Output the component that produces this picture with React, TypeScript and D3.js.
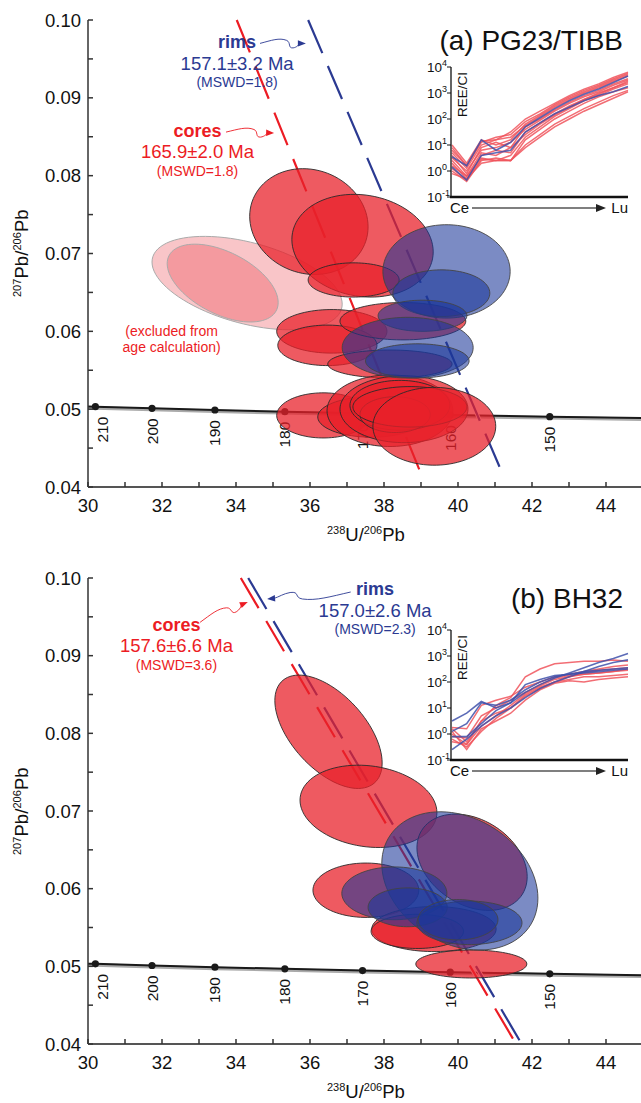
import React from "react";
import * as d3 from "d3";

const W = 641;
const H = 1103;
const FONT = "'Liberation Sans', Arial, Helvetica, sans-serif";
const RED = "#EC1C24";
const BLUE = "#2B3A92";

// axes
const xMajor = [30, 32, 34, 36, 38, 40, 42, 44];
const xMinor = [31, 33, 35, 37, 39, 41, 43, 45];
const yMajor = [0.04, 0.05, 0.06, 0.07, 0.08, 0.09, 0.1];
const yMajorLabels = ["0.04", "0.05", "0.06", "0.07", "0.08", "0.09", "0.10"];
const yMinor = [0.045, 0.055, 0.065, 0.075, 0.085, 0.095];

// concordia (Tera-Wasserburg) age marks
const concAges = [210, 200, 190, 180, 170, 160, 150];
const concX = [30.2, 31.73, 33.43, 35.32, 37.42, 39.79, 42.48];
const concY = [0.05032, 0.05011, 0.04989, 0.04968, 0.04946, 0.04925, 0.04904];
const concLineX = [30.0, 30.2, 31.73, 33.43, 35.32, 37.42, 39.79, 42.48, 45.0];
const concLineY = [0.05034, 0.05032, 0.05011, 0.04989, 0.04968, 0.04946, 0.04925, 0.04904, 0.04886];

// ellipses: [x, y, sx, sy, rho]
const excludedA = [
  [34.3, 0.0662, 2.57, 0.006, -0.45],
  [33.64, 0.0662, 1.5, 0.005, -0.5],
];
const coresA = [
  [35.97, 0.0741, 1.6, 0.0068, -0.1],
  [37.42, 0.071, 1.91, 0.0066, -0.12],
  [37.18, 0.0666, 1.23, 0.0022, 0],
  [36.59, 0.06, 1.49, 0.0028, 0],
  [36.47, 0.0582, 1.34, 0.0026, 0],
  [38.51, 0.0613, 1.7, 0.0024, 0],
  [38.16, 0.0558, 1.68, 0.0018, 0],
  [36.36, 0.0492, 1.26, 0.0029, 0],
  [37.66, 0.049, 1.45, 0.0026, 0],
  [38.16, 0.0498, 1.7, 0.0046, 0],
  [38.54, 0.05, 1.73, 0.0043, 0],
  [38.43, 0.0505, 1.35, 0.0032, 0],
  [38.3, 0.0493, 0.95, 0.0023, 0],
  [38.7, 0.0503, 1.54, 0.0026, 0],
  [39.36, 0.0478, 1.66, 0.005, 0],
];
const rimsA = [
  [39.69, 0.0677, 1.72, 0.006, 0],
  [39.55, 0.0649, 1.31, 0.003, 0],
  [39.04, 0.062, 1.2, 0.002, 0],
  [38.64, 0.0579, 1.77, 0.0039, 0],
  [38.9, 0.0562, 1.4, 0.0022, 0],
];
const coresB = [
  [36.5, 0.0802, 1.45, 0.0073, -0.55],
  [37.58, 0.0706, 1.85, 0.0053, -0.15],
  [37.51, 0.0598, 1.43, 0.0035, 0],
  [39.35, 0.0548, 1.68, 0.0029, 0],
  [38.9, 0.0545, 1.25, 0.0022, 0],
  [40.36, 0.0503, 1.5, 0.0018, 0],
  [40.38, 0.0634, 1.49, 0.0062, -0.3],
];
const rimsB = [
  [40.05, 0.061, 2.11, 0.0089, -0.25],
  [38.28, 0.0594, 1.42, 0.0034, 0],
  [38.64, 0.0576, 1.07, 0.0025, 0],
  [40.31, 0.0556, 1.42, 0.0028, 0],
  [40.0, 0.056, 1.08, 0.0026, 0],
];

// discordia lines [x1, y1, x2, y2]
const discCoresA = [34.02, 0.1, 39.06, 0.041];
const discRimsA = [35.95, 0.1, 41.23, 0.0414];
const discCoresB = [34.13, 0.1, 41.57, 0.04];
const discRimsB = [34.33, 0.1, 41.72, 0.04];

// REE inset (log10 of chondrite-normalised values)
const reeElements = ["Ce", "Pr", "Nd", "Sm", "Eu", "Gd", "Tb", "Dy", "Ho", "Er", "Tm", "Yb", "Lu"];
const reeExp = [-1, 0, 1, 2, 3, 4];
const reeCoresA = [
  [0.9, 0.2, 1.1, 1.3, 1.4, 1.9, 2.2, 2.55, 2.85, 3.1, 3.3, 3.55, 3.75],
  [0.6, -0.1, 0.9, 1.1, 0.9, 1.7, 2.0, 2.35, 2.65, 2.9, 3.1, 3.35, 3.55],
  [0.3, -0.3, 0.6, 0.8, 0.7, 1.5, 1.85, 2.2, 2.5, 2.75, 3.0, 3.2, 3.4],
  [1.0, 0.3, 1.2, 1.0, 1.2, 1.8, 2.15, 2.5, 2.8, 3.05, 3.25, 3.5, 3.7],
  [0.0, -0.4, 0.4, 0.5, 0.4, 1.2, 1.6, 2.0, 2.3, 2.6, 2.85, 3.05, 3.2],
  [0.2, -0.2, 0.5, 0.4, 0.4, 1.0, 1.4, 1.8, 2.1, 2.4, 2.65, 2.9, 3.1],
  [0.5, 0.0, 0.8, 0.9, 1.1, 1.6, 1.95, 2.3, 2.6, 2.85, 3.05, 3.3, 3.5],
  [0.7, 0.1, 1.0, 1.2, 1.5, 2.0, 2.3, 2.6, 2.9, 3.15, 3.35, 3.6, 3.8],
  [-0.1, -0.3, 0.3, 0.4, 0.6, 1.3, 1.7, 2.1, 2.4, 2.7, 2.9, 3.15, 3.35],
  [0.4, -0.2, 0.7, 0.6, 0.9, 1.4, 1.8, 2.15, 2.45, 2.75, 2.95, 3.2, 3.45],
  [0.8, 0.2, 1.15, 1.2, 1.3, 1.75, 2.1, 2.45, 2.75, 3.0, 3.2, 3.45, 3.65],
  [0.1, -0.35, 0.45, 0.4, 0.4, 0.9, 1.3, 1.7, 2.0, 2.3, 2.55, 2.8, 3.05],
];
const reeRimsA = [
  [0.55, 0.2, 1.2, 0.8, 1.1, 1.7, 2.05, 2.4, 2.7, 2.95, 3.15, 3.4, 3.65],
  [0.15, -0.35, 0.6, 0.7, 0.8, 1.5, 1.85, 2.2, 2.45, 2.7, 2.9, 3.05, 3.25],
];
const reeCoresB = [
  [0.2, -0.3, 0.5, 1.1, 1.4, 2.2, 2.5, 2.7, 2.75, 2.8, 2.8, 2.85, 2.8],
  [-0.2, -0.5, 0.1, 0.6, 1.0, 1.5, 1.8, 2.0, 2.2, 2.35, 2.45, 2.5, 2.55],
  [0.1, -0.6, 0.2, 0.5, 0.8, 1.3, 1.7, 1.95, 2.05, 2.0, 2.1, 2.15, 2.2],
  [0.25, 0.2, 1.1, 1.3, 1.45, 1.8, 2.0, 2.2, 2.3, 2.4, 2.5, 2.6, 2.65],
  [-0.3, -0.4, 0.5, 0.8, 1.0, 1.45, 1.75, 2.0, 2.1, 2.2, 2.2, 2.25, 2.3],
  [-0.1, -0.15, 0.7, 1.0, 1.3, 1.6, 1.9, 2.15, 2.25, 2.3, 2.35, 2.4, 2.5],
  [0.0, -0.4, 0.3, 0.7, 1.1, 1.55, 1.85, 2.1, 2.2, 2.3, 2.35, 2.4, 2.45],
];
const reeRimsB = [
  [0.5, 0.8, 1.25, 1.0, 1.2, 1.6, 1.9, 2.15, 2.35, 2.55, 2.75, 2.9, 3.1],
  [0.1, 0.4, 1.2, 1.1, 1.3, 1.7, 2.0, 2.2, 2.3, 2.35, 2.4, 2.45, 2.5],
  [-0.6, -0.2, 0.3, 0.7, 1.0, 1.4, 1.75, 2.0, 2.2, 2.4, 2.6, 2.75, 2.85],
  [-0.1, -0.1, 0.4, 0.9, 1.2, 1.9, 2.1, 2.25, 2.3, 2.4, 2.45, 2.5, 2.55],
];

const panels = [
  {
    id: "a",
    title: "(a) PG23/TIBB",
    top: 20,
    bottom: 487,
    excluded: excludedA,
    cores: coresA,
    rims: rimsA,
    discCores: discCoresA,
    discRims: discRimsA,
    coresText: { x: 32.96, y: 0.08497, age: "165.9±2.0 Ma", mswd: "(MSWD=1.8)" },
    rimsText: { x: 34.03, y: 0.0964, age: "157.1±3.2 Ma", mswd: "(MSWD=1.8)" },
    coresArrow: [33.73, 0.0856, 35.03, 0.0855],
    rimsArrow: [34.65, 0.097, 35.89, 0.097],
    excludedText: { x: 32.26, y: 0.0594 },
    reeTop: 67,
    reeBottom: 197,
    reeCores: reeCoresA,
    reeRims: reeRimsA,
  },
  {
    id: "b",
    title: "(b) BH32",
    top: 578,
    bottom: 1044,
    excluded: [],
    cores: coresB,
    rims: rimsB,
    discCores: discCoresB,
    discRims: discRimsB,
    coresText: { x: 32.39, y: 0.09317, age: "157.6±6.6 Ma", mswd: "(MSWD=3.6)" },
    rimsText: { x: 37.76, y: 0.0978, age: "157.0±2.6 Ma", mswd: "(MSWD=2.3)" },
    coresArrow: [33.03, 0.0943, 34.32, 0.0969],
    rimsArrow: [37.1, 0.0982, 34.84, 0.0973],
    excludedText: null,
    reeTop: 630,
    reeBottom: 760,
    reeCores: reeCoresB,
    reeRims: reeRimsB,
  },
];

function ellipsePath(e: number[], xs: any, ys: any) {
  const [cx, cy, sx, sy, rho] = e;
  const k = Math.sqrt(1 - rho * rho);
  const pts = d3.range(0, 90).map((i) => {
    const t = (i / 90) * 2 * Math.PI;
    return [xs(cx + sx * Math.cos(t)), ys(cy + sy * (rho * Math.cos(t) + k * Math.sin(t)))] as [number, number];
  });
  return d3.line().curve(d3.curveLinearClosed)(pts) as string;
}

function squiggle(x0: number, y0: number, x1: number, y1: number) {
  const dx = x1 - x0, dy = y1 - y0;
  const L = Math.hypot(dx, dy);
  const ux = dx / L, uy = dy / L;
  const nx = -uy, ny = ux;
  const P = (a: number, p: number) => `${(x0 + ux * a * L + nx * p).toFixed(1)},${(y0 + uy * a * L + ny * p).toFixed(1)}`;
  const Pa = (a: number, p: number) => `${(x0 + ux * a + nx * p).toFixed(1)},${(y0 + uy * a + ny * p).toFixed(1)}`;
  const d =
    `M${P(0, 0)} C${P(0.25, -3)} ${P(0.42, -6)} ${P(0.58, -3)} ` +
    `C${P(0.68, -1)} ${P(0.6, 5)} ${P(0.72, 4.5)} ` +
    `C${P(0.8, 4)} ${P(0.86, 1)} ${Pa(L - 7, 0)}`;
  const head = `M${Pa(L, 0)} L${Pa(L - 8, -3.2)} L${Pa(L - 8, 3.2)} Z`;
  return { d, head };
}

function Inset({ p }: any) {
  const xs = d3.scalePoint().domain(reeElements).range([452, 628]);
  const ys = d3.scaleLinear().domain([-1, 4]).range([p.reeBottom, p.reeTop]);
  const line = d3
    .line<number>()
    .x((_, i) => xs(reeElements[i]) as number)
    .y((v) => ys(v));
  return (
    <g>
      {p.reeCores.map((s: number[], i: number) => (
        <path key={"c" + i} d={line(s) as string} fill="none" stroke="#F0545C" strokeOpacity={0.85} strokeWidth={1.5} />
      ))}
      {p.reeRims.map((s: number[], i: number) => (
        <path key={"r" + i} d={line(s) as string} fill="none" stroke="#3F51AA" strokeOpacity={0.85} strokeWidth={1.6} />
      ))}
      <line x1={451} x2={451} y1={p.reeTop} y2={p.reeBottom} stroke="#111" strokeWidth={1.3} />
      <line x1={450} x2={628} y1={p.reeBottom} y2={p.reeBottom} stroke="#111" strokeWidth={2.5} />
      {reeExp.map((e) => (
        <g key={e}>
          <line x1={447} x2={451} y1={ys(e)} y2={ys(e)} stroke="#111" strokeWidth={1} />
          <text x={427} y={ys(e) + 5} fontSize={13.5} fill="#111">
            10
            <tspan dy={-6} fontSize={9}>
              {e === -1 ? "-1" : String(e)}
            </tspan>
          </text>
        </g>
      ))}
      <g transform={`translate(467,${p.reeTop + 50}) rotate(-90)`}>
        <text x={0} y={0} textAnchor="start" fontSize={13.5} fill="#111">
          REE/CI
        </text>
      </g>
      <text x={450} y={p.reeBottom + 16} fontSize={15} fill="#111">
        Ce
      </text>
      <text x={628} y={p.reeBottom + 16} fontSize={15} fill="#111" textAnchor="end">
        Lu
      </text>
      <line x1={472} x2={598} y1={p.reeBottom + 11} y2={p.reeBottom + 11} stroke="#555" strokeWidth={1.3} />
      <path d={`M606,${p.reeBottom + 11} L596,${p.reeBottom + 7} L596,${p.reeBottom + 15} Z`} fill="#222" />
    </g>
  );
}

function Panel({ p }: any) {
  const x0 = 88;
  const xs = d3.scaleLinear().domain([30, 45]).range([x0, 643]);
  const ys = d3.scaleLinear().domain([0.04, 0.1]).range([p.bottom, p.top]);
  const concLine = d3
    .line<number>()
    .x((v) => xs(v))
    .y((_, i) => ys(concLineY[i]))(concLineX) as string;

  const disc = (c: number[], color: string, dash: string) => (
    <g>
      <line x1={xs(c[0])} y1={ys(c[1])} x2={xs(c[2])} y2={ys(c[3])} stroke="#fff" strokeWidth={4} strokeDasharray={dash} />
      <line x1={xs(c[0])} y1={ys(c[1])} x2={xs(c[2])} y2={ys(c[3])} stroke={color} strokeWidth={2.2} strokeDasharray={dash} />
    </g>
  );

  const ca = p.coresArrow, ra = p.rimsArrow;
  const cArrow = squiggle(xs(ca[0]), ys(ca[1]), xs(ca[2]), ys(ca[3]));
  const rArrow = squiggle(xs(ra[0]), ys(ra[1]), xs(ra[2]), ys(ra[3]));

  const ct = p.coresText, rt = p.rimsText;

  return (
    <g fontFamily={FONT}>
      {/* concordia */}
      <path d={concLine} fill="none" stroke="#aaa" strokeWidth={3.5} transform="translate(0,1.2)" />
      <path d={concLine} fill="none" stroke="#1a1a1a" strokeWidth={2} />
      {concAges.map((a, i) => {
        const cx = xs(concX[i]);
        const cy = ys(concY[i]);
        const lx = Math.max(cx, x0 + 14) + 5.5;
        return (
          <g key={a}>
            <circle cx={cx} cy={cy} r={3.6} fill="#1a1a1a" />
            <text transform={`translate(${lx},${cy + 10}) rotate(-90)`} textAnchor="end" fontSize={15.5} fill="#111">
              {a}
            </text>
          </g>
        );
      })}

      {/* discordia */}
      {disc(p.discCores, RED, "35 15")}
      {disc(p.discRims, BLUE, "36 14")}

      {/* ellipses */}
      {p.excluded.map((e: number[], i: number) => (
        <path key={"x" + i} d={ellipsePath(e, xs, ys)} fill="#E8202A" fillOpacity={0.26} stroke="#aaa" strokeWidth={1} />
      ))}
      {p.cores.map((e: number[], i: number) => (
        <path key={"c" + i} d={ellipsePath(e, xs, ys)} fill="#E8202A" fillOpacity={0.74} stroke="#2a2a2a" strokeWidth={0.9} />
      ))}
      {p.rims.map((e: number[], i: number) => (
        <path key={"r" + i} d={ellipsePath(e, xs, ys)} fill="#1B379A" fillOpacity={0.58} stroke="#444" strokeWidth={0.9} />
      ))}

      {/* axes */}
      <line x1={x0} x2={x0} y1={p.top} y2={p.bottom} stroke="#333" strokeWidth={1.5} />
      <line x1={x0} x2={W} y1={p.bottom} y2={p.bottom} stroke="#555" strokeWidth={1.8} />
      {yMajor.map((v, i) => (
        <g key={v}>
          <line x1={x0} x2={x0 + 5} y1={ys(v)} y2={ys(v)} stroke="#333" strokeWidth={1.5} />
          <text x={81} y={ys(v) + 6.5} textAnchor="end" fontSize={18.5} fill="#111">
            {yMajorLabels[i]}
          </text>
        </g>
      ))}
      {yMinor.map((v) => (
        <line key={v} x1={x0} x2={x0 + 5} y1={ys(v)} y2={ys(v)} stroke="#333" strokeWidth={1.5} />
      ))}
      {xMajor.map((v) => (
        <g key={v}>
          <line x1={xs(v)} x2={xs(v)} y1={p.bottom} y2={p.bottom - 5} stroke="#333" strokeWidth={1.5} />
          <text x={xs(v)} y={p.bottom + 25} textAnchor="middle" fontSize={18.5} fill="#111">
            {v}
          </text>
        </g>
      ))}
      {xMinor.map((v) => (
        <line key={v} x1={xs(v)} x2={xs(v)} y1={p.bottom} y2={p.bottom - 5} stroke="#333" strokeWidth={1.5} />
      ))}

      {/* axis titles */}
      <text x={327} y={p.bottom + 54} fontSize={18.5} fill="#111">
        <tspan fontSize={11} dy={-7}>238</tspan>
        <tspan dy={7}>U/</tspan>
        <tspan fontSize={11} dy={-7}>206</tspan>
        <tspan dy={7}>Pb</tspan>
      </text>
      <g transform={`translate(28,${p.top + 277}) rotate(-90)`} fill="#111">
        <text x={0} y={-7} fontSize={11}>207</text>
        <text x={18.5} y={0} fontSize={18.5}>Pb/</text>
        <text x={46.5} y={-7} fontSize={11}>206</text>
        <text x={65} y={0} fontSize={18.5}>Pb</text>
      </g>

      {/* annotations */}
      <g textAnchor="middle">
        <text x={xs(rt.x)} y={ys(rt.y)} fontSize={18} fontWeight="bold" fill={BLUE}>rims</text>
        <text x={xs(rt.x)} y={ys(rt.y) + 22} fontSize={18.5} fill={BLUE}>{rt.age}</text>
        <text x={xs(rt.x)} y={ys(rt.y) + 39} fontSize={14} fill={BLUE}>{rt.mswd}</text>
        <text x={xs(ct.x)} y={ys(ct.y)} fontSize={18} fontWeight="bold" fill={RED}>cores</text>
        <text x={xs(ct.x)} y={ys(ct.y) + 21} fontSize={18.5} fill={RED}>{ct.age}</text>
        <text x={xs(ct.x)} y={ys(ct.y) + 39} fontSize={14} fill={RED}>{ct.mswd}</text>
        {p.excludedText && (
          <g>
            <text x={xs(p.excludedText.x)} y={ys(p.excludedText.y)} fontSize={14} fill={RED}>(excluded from</text>
            <text x={xs(p.excludedText.x)} y={ys(p.excludedText.y) + 16} fontSize={14} fill={RED}>age calculation)</text>
          </g>
        )}
      </g>
      <path d={cArrow.d} fill="none" stroke={RED} strokeWidth={0.9} />
      <path d={cArrow.head} fill={RED} />
      <path d={rArrow.d} fill="none" stroke={BLUE} strokeWidth={0.9} />
      <path d={rArrow.head} fill={BLUE} />

      <Inset p={p} />

      <text x={623} y={p.top + 30} textAnchor="end" fontSize={28} fill="#111">
        {p.title}
      </text>
    </g>
  );
}

export default function App() {
  return (
    <svg
      width={W}
      height={H}
      viewBox={`0 0 ${W} ${H}`}
      style={{ position: "absolute", left: 0, top: 0, display: "block", background: "#fff" }}
    >
      <rect width={W} height={H} fill="#fff" />
      {panels.map((p) => (
        <Panel key={p.id} p={p} />
      ))}
    </svg>
  );
}
